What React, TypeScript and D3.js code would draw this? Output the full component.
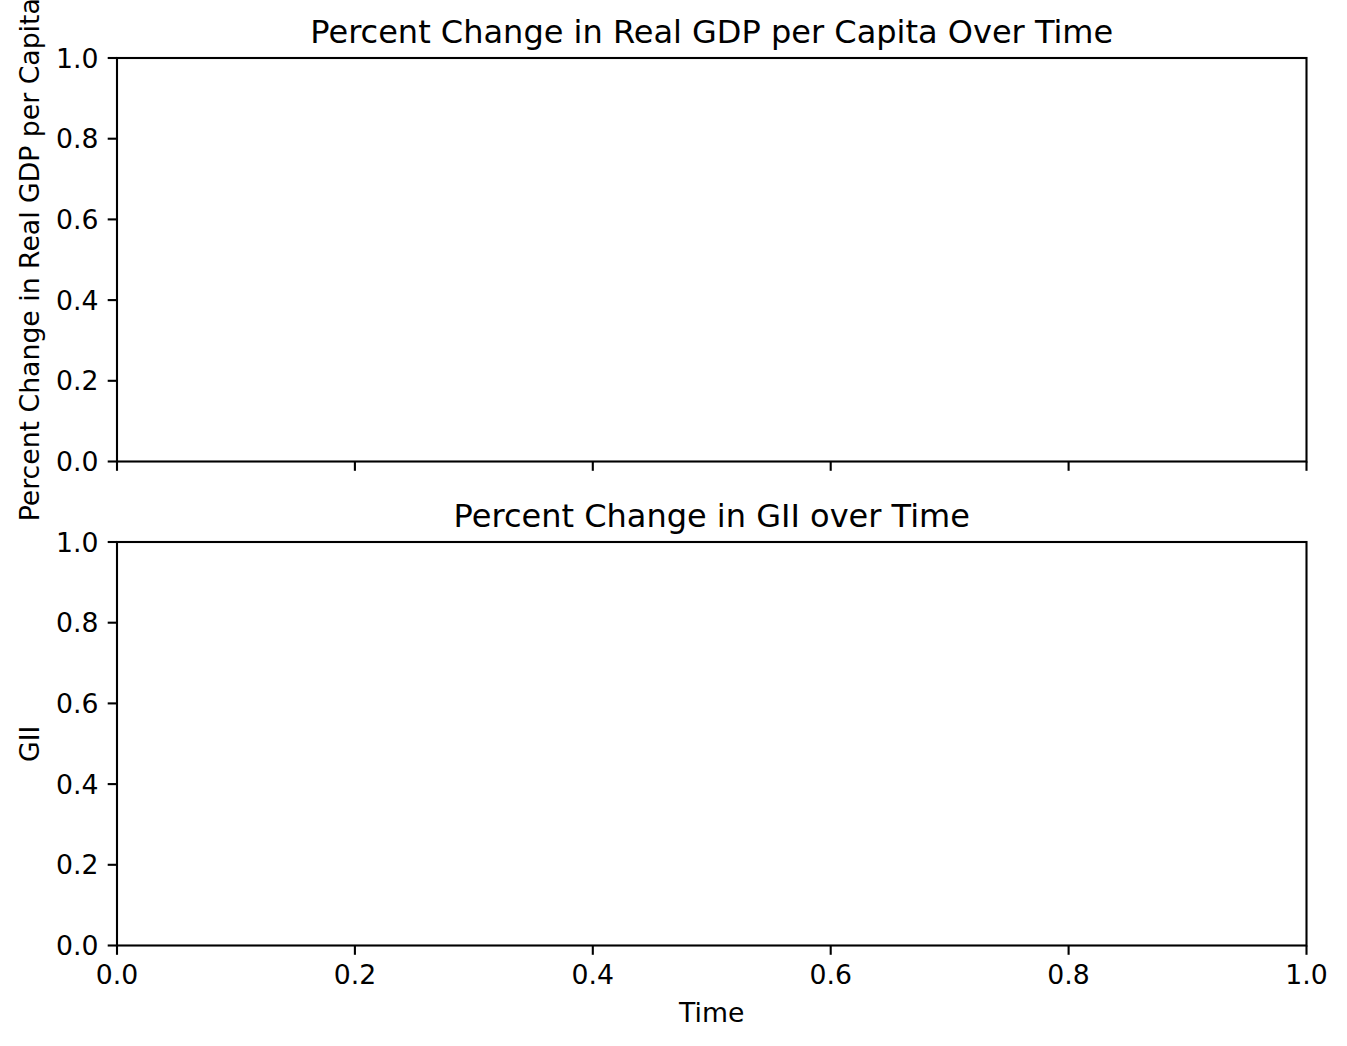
import React from "react";
import * as d3 from "d3";

const xTicks = [0, 0.2, 0.4, 0.6, 0.8, 1.0];
const yTicks = [0, 0.2, 0.4, 0.6, 0.8, 1.0];
const xDomain = [0, 1];
const yDomain = [0, 1];
const panels = [
  { title: "Percent Change in Real GDP per Capita Over Time", ylabel: "Percent Change in Real GDP per Capita", showXLabels: false },
  { title: "Percent Change in GII over Time", ylabel: "GII", showXLabels: true },
];
const xLabel = "Time";

const W = 1347;
const H = 1046;
const left = 117;
const right = 1306.5;
const tops = [58, 542];
const axH = 403.5;
const font = "'DejaVu Sans', sans-serif";
const tickFs = 26.7;
const titleFs = 32;
const tickLen = 9.3;
const pad = 9.3;

export default function App() {
  const x = d3.scaleLinear().domain(xDomain).range([left, right]);
  return (
    <svg width={W} height={H} style={{ position: "absolute", left: 0, top: 0, background: "#fff" }} fontFamily={font}>
      <rect width={W} height={H} fill="#fff" />
      {panels.map((p, i) => {
        const top = tops[i];
        const bottom = top + axH;
        const y = d3.scaleLinear().domain(yDomain).range([bottom, top]);
        const cy = (top + bottom) / 2;
        return (
          <g key={i}>
            <rect x={left} y={top} width={right - left} height={bottom - top} fill="none" stroke="#000" strokeWidth={2.1} />
            {yTicks.map((t) => (
              <g key={"y" + t}>
                <line x1={left - tickLen} x2={left} y1={y(t)} y2={y(t)} stroke="#000" strokeWidth={2.1} />
                <text x={left - tickLen - pad} y={y(t)} dy="0.36em" textAnchor="end" fontSize={tickFs}>
                  {d3.format(".1f")(t)}
                </text>
              </g>
            ))}
            {xTicks.map((t) => (
              <g key={"x" + t}>
                <line x1={x(t)} x2={x(t)} y1={bottom} y2={bottom + tickLen} stroke="#000" strokeWidth={2.1} />
                {p.showXLabels && (
                  <text x={x(t)} y={bottom + tickLen + pad} dy="0.76em" textAnchor="middle" fontSize={tickFs}>
                    {d3.format(".1f")(t)}
                  </text>
                )}
              </g>
            ))}
            <text x={(left + right) / 2} y={top - 15} textAnchor="middle" fontSize={titleFs}>
              {p.title}
            </text>
            <text transform={`translate(39,${cy}) rotate(-90)`} textAnchor="middle" fontSize={tickFs}>
              {p.ylabel}
            </text>
          </g>
        );
      })}
      <text x={(left + right) / 2} y={1021.5} textAnchor="middle" fontSize={tickFs}>
        {xLabel}
      </text>
    </svg>
  );
}
